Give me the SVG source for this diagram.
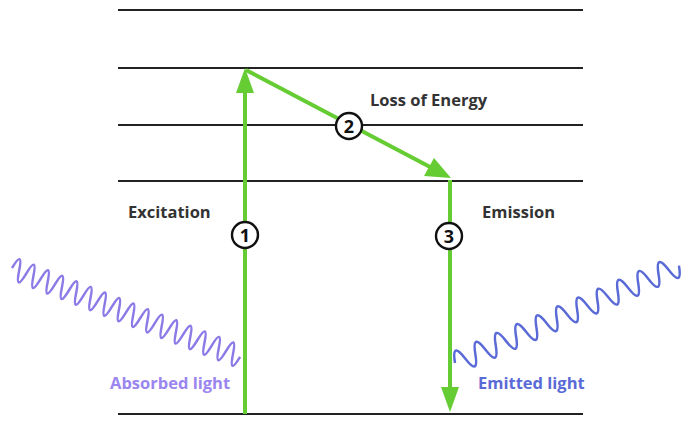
<svg xmlns="http://www.w3.org/2000/svg" width="699" height="424" viewBox="0 0 699 424">
<style>
.lvl{stroke:#222;stroke-width:2;fill:none}
.arr{stroke:#66cc33;stroke-width:4;fill:none}
.head{fill:#66cc33}
.lbl{font-family:"Open Sans","Liberation Sans",sans-serif;font-weight:bold;font-size:16.5px;fill:#333}
.num{font-family:"Open Sans","Liberation Sans",sans-serif;font-weight:bold;font-size:18px;fill:#111;text-anchor:middle}
.circ{fill:#fff;stroke:#111;stroke-width:2.4}
</style>
<rect width="699" height="424" fill="#fff"/>
<g id="levels">
<line class="lvl" x1="118" y1="10" x2="583" y2="10"/>
<line class="lvl" x1="118" y1="68" x2="583" y2="68"/>
<line class="lvl" x1="118" y1="125" x2="583" y2="125"/>
<line class="lvl" x1="118" y1="181" x2="583" y2="181"/>
<line class="lvl" x1="118" y1="414" x2="583" y2="414"/>
</g>
<g id="connectors">
<line class="arr" x1="245" y1="414" x2="245" y2="88"/>
<polygon class="head" points="245,68 236,93 254,93"/>
<line class="arr" x1="246" y1="70" x2="432" y2="168"/>
<polygon class="head" points="451,178 424,176 434,158"/>
<line class="arr" x1="450" y1="180" x2="450" y2="392"/>
<polygon class="head" points="450,412 441,387 459,387"/>
</g>
<g id="absorbed">
<path transform="translate(12,268) rotate(21.3)" fill="none" stroke="#8c7ae6" stroke-width="2.5" d="M0,0 q3.83,-22 7.65,0 t7.65,0 t7.65,0 t7.65,0 t7.65,0 t7.65,0 t7.65,0 t7.65,0 t7.65,0 t7.65,0 t7.65,0 t7.65,0 t7.65,0 t7.65,0 t7.65,0 t7.65,0 t7.65,0 t7.65,0 t7.65,0 t7.65,0 t7.65,0 t7.65,0 t7.65,0 t7.65,0 t7.65,0 t7.65,0 t7.65,0 t7.65,0 t7.65,0 t7.65,0 t7.65,0 t7.65,0"/>
<text class="lbl" x="110" y="389" style="fill:#9a86ee">Absorbed light</text>
</g>
<g id="emitted">
<path transform="translate(455,363) rotate(-23.5)" fill="none" stroke="#5a6ad6" stroke-width="2.5" d="M0,0 q5.55,-22 11.1,0 t11.1,0 t11.1,0 t11.1,0 t11.1,0 t11.1,0 t11.1,0 t11.1,0 t11.1,0 t11.1,0 t11.1,0 t11.1,0 t11.1,0 t11.1,0 t11.1,0 t11.1,0 t11.1,0 t11.1,0 t11.1,0 t11.1,0 t11.1,0 t11.1,0"/>
<text class="lbl" x="478" y="389" style="fill:#5a6ad6">Emitted light</text>
</g>
<g id="step1">
<circle class="circ" cx="245" cy="235" r="13"/>
<text class="num" x="245" y="241.5">1</text>
<text class="lbl" x="128" y="218">Excitation</text>
</g>
<g id="step2">
<circle class="circ" cx="349" cy="126" r="13"/>
<text class="num" x="349" y="132.5">2</text>
<text class="lbl" x="370" y="106">Loss of Energy</text>
</g>
<g id="step3">
<circle class="circ" cx="449" cy="236" r="13"/>
<text class="num" x="449" y="242.5">3</text>
<text class="lbl" x="482" y="218">Emission</text>
</g>
</svg>
